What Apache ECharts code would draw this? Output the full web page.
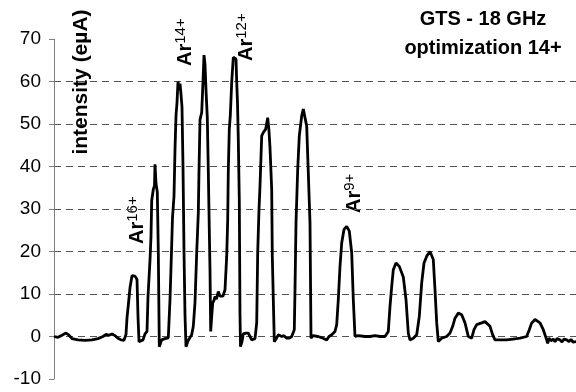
<!DOCTYPE html>
<html>
<head>
<meta charset="utf-8">
<script src="https://cdn.jsdelivr.net/npm/echarts@6/dist/echarts.min.js"></script>
<style>
  html, body { margin: 0; padding: 0; background: #fff; }
  #chart { width: 576px; height: 392px; }
</style>
</head>
<body>
<div id="chart"></div>
<script>
// spectrum scan (arbitrary position units) and measured intensity (eµA)
var scanPos = [0, 4, 8, 12, 15, 18, 24, 31, 38, 44, 49, 52, 55, 58, 61, 64, 67, 70, 72, 73,
  75, 76, 78, 81, 83, 84, 85, 87, 89, 91, 93, 94, 96, 97, 97.7, 99.3, 100.5, 101, 102, 103.3,
  104.3, 105.3, 107.7, 111, 114.3, 116, 117.5, 118.5, 120, 121, 122, 123, 124, 125, 126, 127,
  128, 129, 130, 131, 132, 134, 137.7, 139.3, 141, 142.7, 144.3, 145, 146, 147.7, 149, 150,
  151, 152, 153.3, 154.3, 155.3, 156, 156.7, 157.5, 158.7, 160, 161, 162.5, 164.3, 166, 167.7,
  169, 171, 172.7, 173.7, 174.3, 175.3, 176.3, 177.7, 179.3, 181, 182, 182.7, 183.5, 184.3,
  185.3, 186, 186.5, 188, 189.3, 192, 194.3, 196, 197.7, 201, 202.7, 203.7, 205, 206, 207.7,
  209.3, 211.7, 213.7, 214.3, 215, 216, 217.7, 218.3, 220.3, 222, 224.3, 227.7, 230, 232.7,
  235, 237.7, 240.3, 241, 242, 243.7, 245.3, 247.7, 249.3, 251, 252.7, 254.3, 256, 257, 259,
  261, 264, 266, 269, 272.7, 275, 277.7, 281, 282.7, 284.3, 286, 287.7, 290, 292.7, 295.3,
  297.7, 299.3, 301, 304, 306, 311, 316, 321, 326, 331, 334.3, 336, 337.7, 339.3, 342, 345.3,
  349.3, 352, 354.3, 356, 359.3, 362.7, 365.3, 367.7, 370, 372.7, 376, 379.3, 381, 382.7,
  384.3, 387.7, 392.7, 396, 398.7, 401, 404.3, 407.7, 411, 414.3, 417.7, 420, 422.7, 427.7,
  431, 436, 438.7, 441, 446, 452.7, 459, 466, 472.7, 475.3, 477.7, 481, 486, 489.3, 492.7,
  493.7, 495, 497, 499.3, 501, 503, 506, 508, 510, 512.7, 515, 517, 519, 522];
var intensity = [0, -0.2, 0.3, 0.8, 0.3, -0.5, -0.8, -0.9, -0.8, -0.5, 0, 0.5, 0.3, 0.6, 0.2, -0.4, -0.8, -0.9, 0.5, 4.4,
  9, 11.5, 14.3, 14.2, 13.4, 4.7, -1.2, -0.9, -0.8, 0.6, 1.2, 9.4, 18, 23.6, 32, 34.6, 35.5, 40.5, 36, 34,
  20, -2.4, -0.8, -0.5, -0.3, 8.7, 20, 28, 33, 44, 52, 55, 60, 58, 59.5, 57,
  54, 40, 20, 5, -2.4, -1, 0.4, 2.4, 8, 19.7, 29, 39, 51, 52.7, 60, 66.2,
  64, 58, 51.5, 39, 25, 15.7, 1.2, 4, 7.9, 8.5, 9.4, 8.8, 10.6, 9.5, 9.1,
  9.5, 11, 18.9, 27.5, 39, 48.8, 52, 59.8, 65.7, 65.7, 65.3, 60, 55, 46.4,
  32, 5, -2.4, -1.2, 0.6, 0.8, 0.8, 0, -0.8, -0.5, 3.2, 19.7, 29.9, 35.4, 47.2,
  48, 48.8, 51.5, 51.6, 48.4, 44.4, 34.6, 18.9, -1.2, -0.6, 0.4, 0, 0.2, -0.4,
  -0.4, 0, 1.6, 11, 26.7, 39.3, 47.2, 51.9, 53.5, 51.5, 49.5, 38.6, 26.7, -0.4, 0.2,
  0.4, 0, 0, -0.4, -0.8, 0, 0.4, 1.2, 2.8, 8.7, 16.5, 22, 25.2, 25.9, 24.8,
  19.7, 8.7, 0, 0.2, 0.4, 0, 0, 0.2, 0, 0, 1.2, 7.1, 11.8, 15.7, 17.3, 16.5,
  14, 8.7, 0.8, -0.8, -0.4, 0.4, 4.7, 12.6, 17.3, 18.9, 20, 18.1, 11, 3.2,
  -1.2, -0.4, 0, 0.8, 2.4, 4.3, 5.5, 5.1, 3.2, 0, -0.4, 1.6, 2.8, 3.2,
  3.5, 2.4, 0.4, -0.8, -0.8, -0.8, -0.6, -0.4, 0, 1.6, 3.2, 4, 3.2, 1.6, -0.8,
  -1.6, -0.4, -1, -0.6, -1.2, -0.5, -0.8, -1.3, -0.6, -0.8, -1.2, -0.7, -1.3, -1.2];

var yMin = -10, yMax = 70, yStep = 10;
var scanMax = 522;
var peakNames = ['16+', '14+', '12+', '9+'];
var titleLines = ['GTS - 18 GHz', 'optimization 14+'];
var yName = 'intensity (eµA)';

var pts = [];
for (var i = 0; i < scanPos.length; i++) {
  pts.push([scanPos[i], intensity[i]]);
}

// dashed grid only between 0 and 60 (not at the frame ends)
var gridColors = [];
for (var v = yMin; v <= yMax; v += yStep) {
  gridColors.push(v === yMin || v === yMax ? 'rgba(0,0,0,0)' : '#555');
}

// rotated peak labels: [x, y] anchors on the page
var peakSpots = [[147, 244], [195, 66], [256, 61], [364, 213]];
var labelEls = [];
for (var k = 0; k < peakNames.length; k++) {
  labelEls.push({
    type: 'text',
    x: peakSpots[k][0],
    y: peakSpots[k][1],
    rotation: Math.PI / 2,
    style: {
      text: '{a|Ar}{s|' + peakNames[k] + '}',
      align: 'left',
      verticalAlign: 'bottom',
      rich: {
        a: { fontSize: 20, fontWeight: 'bold', fontFamily: 'Liberation Sans', lineHeight: 22, verticalAlign: 'bottom', fill: '#000' },
        s: { fontSize: 15, fontFamily: 'Liberation Sans', lineHeight: 15, verticalAlign: 'top', fill: '#000' }
      }
    }
  });
}

var chart = echarts.init(document.getElementById('chart'), null, { renderer: 'canvas' });

chart.setOption({
  animation: false,
  backgroundColor: '#fff',
  grid: { left: 54, right: 0, top: 39, bottom: 13 },
  xAxis: {
    type: 'value',
    min: 0,
    max: scanMax,
    show: false
  },
  yAxis: {
    type: 'value',
    min: yMin,
    max: yMax,
    interval: yStep,
    axisLine: { show: true, lineStyle: { color: '#808080', width: 1 } },
    axisTick: { show: true, inside: false, length: 5, lineStyle: { color: '#808080' } },
    axisLabel: { color: '#000', fontSize: 19, fontFamily: 'Liberation Sans', margin: 13 },
    splitLine: { show: true, lineStyle: { color: gridColors, type: [7, 5], width: 1 } }
  },
  graphic: [
    {
      type: 'text',
      x: 81,
      y: 82,
      rotation: Math.PI / 2,
      style: {
        text: yName,
        font: 'bold 21px "Liberation Sans"',
        align: 'center',
        verticalAlign: 'middle',
        fill: '#000'
      }
    },
    {
      type: 'text',
      x: 483,
      y: 34,
      style: {
        text: titleLines.join('\n'),
        font: 'bold 20px "Liberation Sans"',
        lineHeight: 29,
        align: 'center',
        verticalAlign: 'middle',
        fill: '#000'
      }
    }
  ].concat(labelEls),
  series: [{
    type: 'line',
    data: pts,
    showSymbol: false,
    symbol: 'none',
    lineStyle: { color: '#000', width: 2.8 },
    z: 3
  }]
});
</script>
</body>
</html>
